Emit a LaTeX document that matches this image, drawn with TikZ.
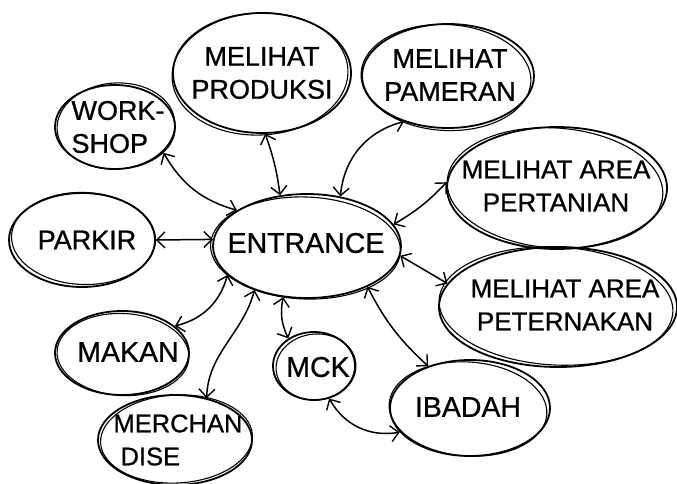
\documentclass[tikz,border=0pt]{standalone}
\usepackage{fontspec}
\setmainfont{Liberation Sans}
\newfontfamily\handfont[FakeBold=0.8]{Liberation Sans}
\usetikzlibrary{shapes.geometric,arrows.meta}
% second, slightly shifted outline that gives each bubble its sketched double stroke
\newcommand\sketchring[5]{%
  \draw[ring] (#1.center) ++(#4) ellipse[x radius=#2, y radius=#3, rotate=#5];}
\begin{document}
\begin{tikzpicture}[x=1pt,y=1pt,
  bubble/.style={ellipse, draw, line width=1.8pt, inner sep=0pt},
  caption/.style={align=center, inner sep=0pt, font=\handfont\fontsize{27}{33}\selectfont},
  big/.style={font=\handfont\fontsize{28.5}{33}\selectfont},
  ring/.style={line width=1.1pt},
  barb/.tip={Straight Barb[length=8pt,width=16pt,line width=1.4pt]},
  link/.style={line width=1.5pt, line cap=round, barb-barb},
]
\useasboundingbox (0,0) rectangle (677,483);

% activity bubbles
\node[bubble, minimum width=188, minimum height=104] (entr) at (307,237) {};
\node[bubble, minimum width=178, minimum height=120] (prod) at (262,410) {};
\node[bubble, minimum width=172, minimum height=104] (pam)  at (448,407) {};
\node[bubble, minimum width=120, minimum height=84]  (work) at (115,356) {};
\node[bubble, minimum width=220, minimum height=122] (pert) at (557,295) {};
\node[bubble, minimum width=146, minimum height=94]  (park) at (82,243)  {};
\node[bubble, minimum width=238, minimum height=120] (pet)  at (558,176) {};
\node[bubble, minimum width=134, minimum height=84]  (mak)  at (122,130) {};
\node[bubble, minimum width=154, minimum height=90]  (mer)  at (175,43)  {};
\node[bubble, minimum width=82,  minimum height=68]  (mck)  at (314,117) {};
\node[bubble, minimum width=160, minimum height=96]  (ibd)  at (470,75)  {};

% doubled outlines
\sketchring{entr}{95}{51}{-1.5,-2}{-2}
\sketchring{prod}{88}{61}{-2,-1}{3}
\sketchring{pam}{85}{53}{-2,-1.5}{-3}
\sketchring{work}{59}{43}{1,1}{4}
\sketchring{pert}{108}{60}{-2,0}{-4}
\sketchring{park}{72}{46}{1.5,1.5}{-2}
\sketchring{pet}{117}{59}{-2,1}{-3}
\sketchring{mak}{66}{41}{1,-1.5}{-3}
\sketchring{mer}{76}{44}{1.5,1}{3}
\sketchring{mck}{40}{33}{2,-1}{5}
\sketchring{ibd}{79}{47}{-2,-1}{-4}

% labels
\node[caption, big] (entrT) at (306,240) {ENTRANCE};
\node[caption] (prodT) at (262,410) {MELIHAT\\PRODUKSI};
\node[caption] (pamT)  at (450,408) {MELIHAT\\PAMERAN};
\node[caption, align=left] (workT) at (118,356) {WORK-\\SHOP};
\node[caption, font=\handfont\fontsize{26}{33}\selectfont] (pertT) at (556,297) {MELIHAT AREA\\PERTANIAN};
\node[caption] (parkT) at (87,243)  {PARKIR};
\node[caption, font=\handfont\fontsize{26}{33}\selectfont] (petT) at (565,178) {MELIHAT AREA\\PETERNAKAN};
\node[caption, big] (makT)  at (128,131) {MAKAN};
\node[caption, align=left, font=\handfont\fontsize{25.5}{33}\selectfont] (merT) at (178,43) {MERCHAN\\\hspace*{7pt}DISE};
\node[caption, big] (mckT)  at (318,116) {MCK};
\node[caption, big] (ibdT)  at (468,76)  {IBADAH};

% two-way paths from the entrance
\draw[link] (work.-28) to[bend right=22] (entr.153);
\draw[link] (prod.-87) to[bend left=6] (entr.118);
\draw[link] (pam.-134) to[bend right=35] (entr.56);
\draw[link] (pert.177) to[bend left=8] (entr.14);
\draw[link] (park.east) -- (entr.176);
\draw[link] (entr.-6) -- (pet.168);
\draw[link] (entr.-34) to[bend right=10] (ibd.135);
\draw[link] (entr.-115) to[bend right=18] (mck.133);
\draw[link] (entr.-140) .. controls +(-105:45) and +(88:45) .. (mer.53);
\draw[link] (mak.27) to[bend right=30] (entr.-160);
\draw[link] (mck.-65) to[bend right=35] (ibd.199);
\end{tikzpicture}
\end{document}
